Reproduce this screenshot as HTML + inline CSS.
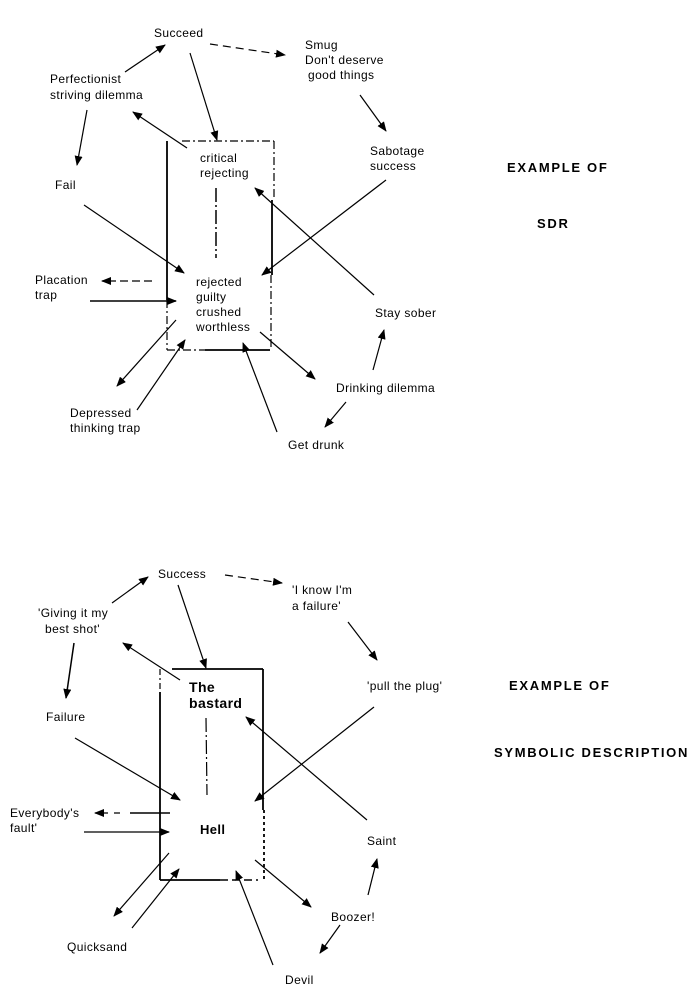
<!DOCTYPE html>
<html><head><meta charset="utf-8"><style>
html,body{margin:0;padding:0;background:#fff;}
svg{display:block;}
text{font-family:"Liberation Sans",sans-serif;font-size:12px;letter-spacing:0.4px;fill:#000;}
.b{font-weight:bold;}
.h{font-weight:bold;font-size:13px;letter-spacing:1.7px;}
</style></head><body>
<svg width="699" height="991" viewBox="0 0 699 991" xmlns="http://www.w3.org/2000/svg">
<defs>
<marker id="a" markerWidth="10" markerHeight="8" refX="9" refY="4" orient="auto" markerUnits="userSpaceOnUse">
<path d="M0,0 L10,4 L0,8 Z" fill="#000"/></marker>
</defs>
<g stroke="#000" stroke-width="1.2" fill="none">
<line x1="210" y1="44" x2="285" y2="55" stroke-dasharray="8,5" marker-end="url(#a)"/>
<line x1="125" y1="72" x2="165" y2="45" marker-end="url(#a)"/>
<line x1="87" y1="110" x2="77" y2="165" marker-end="url(#a)"/>
<line x1="190" y1="53" x2="217" y2="140" marker-end="url(#a)"/>
<line x1="187" y1="148" x2="133" y2="112" marker-end="url(#a)"/>
<line x1="360" y1="95" x2="386" y2="131" marker-end="url(#a)"/>
<line x1="84" y1="205" x2="184" y2="273" marker-end="url(#a)"/>
<line x1="386" y1="180" x2="262" y2="275" marker-end="url(#a)"/>
<line x1="374" y1="295" x2="255" y2="188" marker-end="url(#a)"/>
<line x1="152" y1="281" x2="102" y2="281" stroke-dasharray="8,4" marker-end="url(#a)"/>
<line x1="90" y1="301" x2="176" y2="301" stroke-width="1.6" marker-end="url(#a)"/>
<line x1="176" y1="320" x2="117" y2="386" marker-end="url(#a)"/>
<line x1="137" y1="410" x2="185" y2="340" marker-end="url(#a)"/>
<line x1="260" y1="332" x2="315" y2="379" marker-end="url(#a)"/>
<line x1="277" y1="432" x2="243" y2="343" marker-end="url(#a)"/>
<line x1="373" y1="370" x2="384" y2="330" marker-end="url(#a)"/>
<line x1="346" y1="402" x2="325" y2="427" marker-end="url(#a)"/>
<line x1="167" y1="141" x2="167" y2="300" stroke-width="1.8"/>
<line x1="167" y1="300" x2="167" y2="350" stroke-dasharray="8,3,2,3"/>
<line x1="182" y1="141" x2="274" y2="141" stroke-dasharray="8,3,2,3"/>
<line x1="274" y1="141" x2="274" y2="200" stroke-dasharray="8,3,2,3"/>
<line x1="272" y1="200" x2="272" y2="275" stroke-width="1.8"/>
<line x1="271" y1="275" x2="271" y2="350" stroke-dasharray="8,3,2,3"/>
<line x1="167" y1="350" x2="205" y2="350" stroke-dasharray="8,3,2,3"/>
<line x1="205" y1="350" x2="270" y2="350" stroke-width="1.8"/>
<line x1="216" y1="188" x2="216" y2="258" stroke-dasharray="14,3,2,3" stroke-width="1.5"/>

<line x1="225" y1="575" x2="282" y2="583" stroke-dasharray="8,5" marker-end="url(#a)"/>
<line x1="112" y1="603" x2="148" y2="577" marker-end="url(#a)"/>
<line x1="74" y1="643" x2="66" y2="698" stroke-width="1.5" marker-end="url(#a)"/>
<line x1="178" y1="585" x2="206" y2="668" marker-end="url(#a)"/>
<line x1="180" y1="680" x2="123" y2="643" marker-end="url(#a)"/>
<line x1="348" y1="622" x2="377" y2="660" marker-end="url(#a)"/>
<line x1="75" y1="738" x2="180" y2="800" marker-end="url(#a)"/>
<line x1="374" y1="707" x2="255" y2="801" marker-end="url(#a)"/>
<line x1="367" y1="820" x2="246" y2="717" marker-end="url(#a)"/>
<line x1="120" y1="813" x2="95" y2="813" stroke-dasharray="6,6" marker-end="url(#a)"/>
<line x1="130" y1="813" x2="170" y2="813" stroke-width="1.5"/>
<line x1="84" y1="832" x2="169" y2="832" marker-end="url(#a)"/>
<line x1="169" y1="853" x2="114" y2="916" marker-end="url(#a)"/>
<line x1="132" y1="928" x2="179" y2="869" marker-end="url(#a)"/>
<line x1="255" y1="860" x2="311" y2="907" marker-end="url(#a)"/>
<line x1="273" y1="965" x2="236" y2="871" marker-end="url(#a)"/>
<line x1="368" y1="895" x2="377" y2="859" marker-end="url(#a)"/>
<line x1="340" y1="925" x2="320" y2="953" marker-end="url(#a)"/>
<line x1="160" y1="669" x2="160" y2="692" stroke-dasharray="6,3,2,3"/>
<line x1="160" y1="692" x2="160" y2="880" stroke-width="1.8"/>
<line x1="172" y1="669" x2="263" y2="669" stroke-width="1.8"/>
<line x1="263" y1="669" x2="263" y2="810" stroke-width="1.8"/>
<line x1="264" y1="810" x2="264" y2="880" stroke-dasharray="3,3" stroke-width="1.8"/>
<line x1="160" y1="880" x2="220" y2="880" stroke-width="1.8"/>
<line x1="220" y1="880" x2="258" y2="880" stroke-dasharray="8,4" stroke-width="1.5"/>
<line x1="206" y1="718" x2="207" y2="795" stroke-dasharray="14,3,2,3"/>
</g>

<text x="154" y="37">Succeed</text>
<text x="305" y="49">Smug</text>
<text x="305" y="64">Don't deserve</text>
<text x="308" y="79">good things</text>
<text x="50" y="83">Perfectionist</text>
<text x="50" y="99">striving dilemma</text>
<text x="55" y="189">Fail</text>
<text x="200" y="162">critical</text>
<text x="200" y="177">rejecting</text>
<text x="370" y="155">Sabotage</text>
<text x="370" y="170">success</text>
<text x="196" y="286">rejected</text>
<text x="196" y="301">guilty</text>
<text x="196" y="316">crushed</text>
<text x="196" y="331">worthless</text>
<text x="35" y="284">Placation</text>
<text x="35" y="299">trap</text>
<text x="375" y="317">Stay sober</text>
<text x="70" y="417">Depressed</text>
<text x="70" y="432">thinking trap</text>
<text x="336" y="392">Drinking dilemma</text>
<text x="288" y="449">Get drunk</text>
<text x="507" y="172" class="h">EXAMPLE OF</text>
<text x="537" y="228" class="h">SDR</text>

<text x="158" y="578">Success</text>
<text x="292" y="594">'I know I'm</text>
<text x="292" y="610">a failure'</text>
<text x="38" y="617">'Giving it my</text>
<text x="45" y="633">best shot'</text>
<text x="46" y="721">Failure</text>
<text x="189" y="692" class="b" style="font-size:14px">The</text>
<text x="189" y="708" class="b" style="font-size:14px">bastard</text>
<text x="367" y="690">'pull the plug'</text>
<text x="10" y="817">Everybody's</text>
<text x="10" y="832">fault'</text>
<text x="200" y="834" class="b" style="font-size:13px">Hell</text>
<text x="367" y="845">Saint</text>
<text x="331" y="921">Boozer!</text>
<text x="67" y="951">Quicksand</text>
<text x="285" y="984">Devil</text>
<text x="509" y="690" class="h">EXAMPLE OF</text>
<text x="494" y="757" class="h">SYMBOLIC DESCRIPTION</text>
</svg>
</body></html>
